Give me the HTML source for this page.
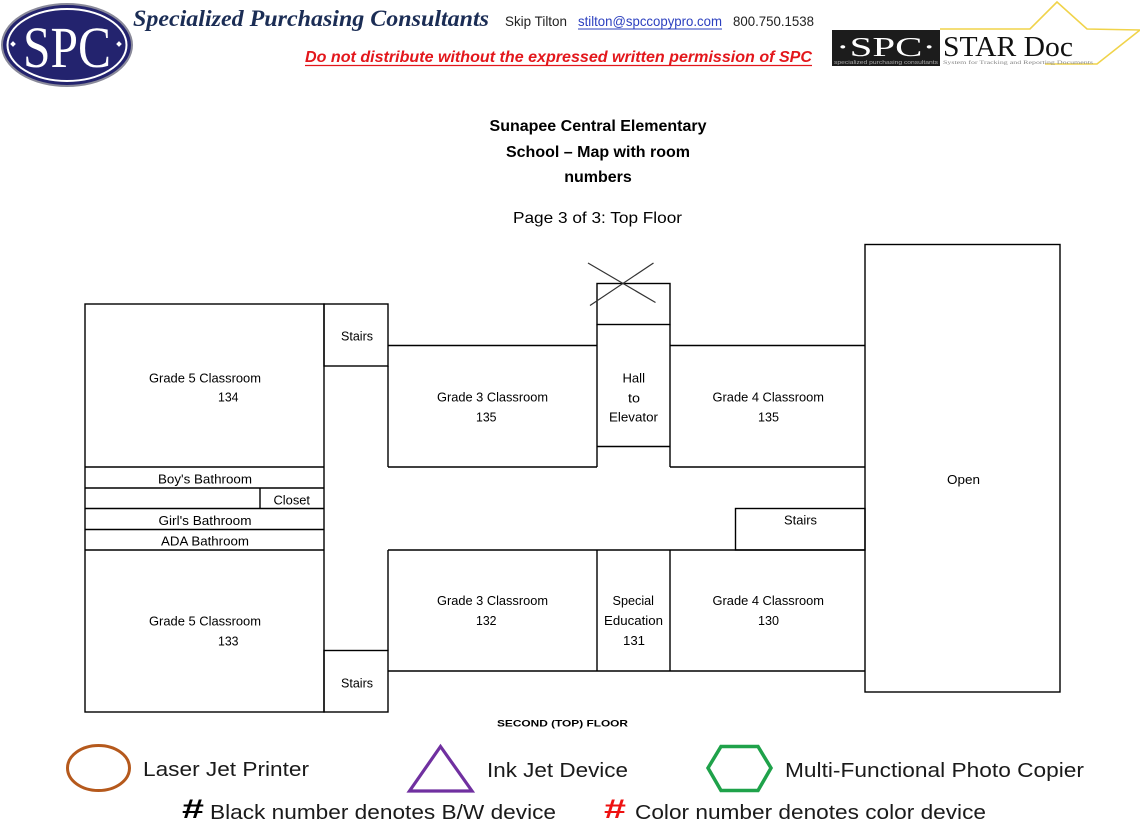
<!DOCTYPE html>
<html>
<head>
<meta charset="utf-8">
<style>
html,body{margin:0;padding:0;background:#fff;}
body{width:1140px;height:828px;overflow:hidden;}
svg{display:block;}
</style>
</head>
<body>
<svg width="1140" height="828" viewBox="0 0 1140 828" xmlns="http://www.w3.org/2000/svg">
<rect x="0" y="0" width="1140" height="828" fill="#fff"/>

<!-- ===== HEADER ===== -->
<!-- SPC oval logo -->
<ellipse cx="67" cy="45" rx="65" ry="41" fill="#23236e" stroke="#8a8a9a" stroke-width="2"/>
<ellipse cx="67" cy="45" rx="59.5" ry="36" fill="none" stroke="#ffffff" stroke-width="2"/>
<text x="23" y="67" font-family="Liberation Serif, serif" font-size="58" fill="#fff" textLength="88" lengthAdjust="spacingAndGlyphs">SPC</text>
<rect x="11" y="42" width="4" height="4" fill="#fff" transform="rotate(45 13 44)"/>
<rect x="117" y="42" width="4" height="4" fill="#fff" transform="rotate(45 119 44)"/>

<text x="133" y="26" font-family="Liberation Serif, serif" font-size="23" font-weight="bold" font-style="italic" fill="#1b2d55" textLength="356" lengthAdjust="spacingAndGlyphs">Specialized Purchasing Consultants</text>
<text x="505" y="26" font-family="Liberation Sans, sans-serif" font-size="14" fill="#222" textLength="62" lengthAdjust="spacingAndGlyphs">Skip Tilton</text>
<text x="578" y="26" font-family="Liberation Sans, sans-serif" font-size="14" fill="#2b3fbf" textLength="144" lengthAdjust="spacingAndGlyphs">stilton@spccopypro.com</text>
<line x1="578" y1="29" x2="722" y2="29" stroke="#2b3fbf" stroke-width="1"/>
<text x="733" y="26" font-family="Liberation Sans, sans-serif" font-size="14" fill="#222" textLength="81" lengthAdjust="spacingAndGlyphs">800.750.1538</text>

<text x="305" y="62" font-family="Liberation Sans, sans-serif" font-size="15.5" font-weight="bold" font-style="italic" fill="#e3171c" textLength="507" lengthAdjust="spacingAndGlyphs">Do not distribute without the expressed written permission of SPC</text>
<line x1="305" y1="65.5" x2="812" y2="65.5" stroke="#e3171c" stroke-width="1.3"/>

<!-- STAR Doc logo -->
<polyline points="940,29 1030,29 1057,2 1087,29 1140,30 1097,64 1045,64" fill="none" stroke="#f0d34a" stroke-width="1.6"/>
<rect x="832" y="30" width="108" height="36" fill="#1c1c1c"/>
<text x="836" y="56" font-family="Liberation Serif, serif" font-size="27" fill="#fff" textLength="100" lengthAdjust="spacingAndGlyphs">·SPC·</text>
<text x="834" y="64" font-family="Liberation Sans, sans-serif" font-size="5" fill="#aaa" textLength="104" lengthAdjust="spacingAndGlyphs">specialized purchasing consultants</text>
<text x="943" y="56" font-family="Liberation Serif, serif" font-size="28" fill="#111" textLength="130" lengthAdjust="spacingAndGlyphs">STAR Doc</text>
<text x="943" y="64" font-family="Liberation Serif, serif" font-size="5" fill="#888" textLength="150" lengthAdjust="spacingAndGlyphs">System for Tracking and Reporting Documents</text>

<!-- ===== TITLE ===== -->
<g font-family="Liberation Sans, sans-serif" font-weight="bold" font-size="16" fill="#000" text-anchor="middle">
<text x="598" y="131">Sunapee Central Elementary</text>
<text x="598" y="157">School – Map with room</text>
<text x="598" y="182">numbers</text>
</g>
<text x="513" y="223" font-family="Liberation Sans, sans-serif" font-size="16" fill="#000" textLength="169" lengthAdjust="spacingAndGlyphs">Page 3 of 3:  Top Floor</text>

<!-- ===== MAP ===== -->
<g fill="none" stroke="#000" stroke-width="1.4">
  <rect x="85" y="304" width="239" height="408"/>
  <line x1="85" y1="467" x2="324" y2="467"/>
  <line x1="85" y1="488" x2="324" y2="488"/>
  <line x1="85" y1="508.5" x2="324" y2="508.5"/>
  <line x1="85" y1="529.5" x2="324" y2="529.5"/>
  <line x1="85" y1="550" x2="324" y2="550"/>
  <line x1="260" y1="488" x2="260" y2="508.5"/>
  <rect x="324" y="304" width="64" height="62"/>
  <rect x="324" y="650.5" width="64" height="61.5"/>
  <line x1="388" y1="366" x2="388" y2="467"/>
  <line x1="388" y1="550" x2="388" y2="650.5"/>
  <line x1="388" y1="345.5" x2="597" y2="345.5"/>
  <line x1="388" y1="467" x2="597" y2="467"/>
  <rect x="597" y="283.5" width="73" height="41"/>
  <line x1="597" y1="324.5" x2="597" y2="467"/>
  <line x1="670" y1="324.5" x2="670" y2="467"/>
  <line x1="597" y1="446.5" x2="670" y2="446.5"/>
  <line x1="670" y1="345.5" x2="865" y2="345.5"/>
  <line x1="670" y1="467" x2="865" y2="467"/>
  <rect x="865" y="244.5" width="195" height="447.5"/>
  <rect x="735.5" y="508.5" width="129.5" height="41.5"/>
  <line x1="388" y1="550" x2="865" y2="550"/>
  <line x1="388" y1="671" x2="865" y2="671"/>
  <line x1="597" y1="550" x2="597" y2="671"/>
  <line x1="670" y1="550" x2="670" y2="671"/>
</g>
<g stroke="#333" stroke-width="1.2">
  <line x1="588" y1="263" x2="655.5" y2="302.5"/>
  <line x1="653.5" y1="263" x2="590" y2="305.5"/>
</g>

<g font-family="Liberation Sans, sans-serif" font-size="12.5" fill="#000">
  <text x="149" y="382.5" textLength="112" lengthAdjust="spacingAndGlyphs">Grade 5 Classroom</text>
  <text x="218" y="401.5" textLength="20.5" lengthAdjust="spacingAndGlyphs">134</text>
  <text x="341" y="340.5" textLength="32" lengthAdjust="spacingAndGlyphs">Stairs</text>
  <text x="158" y="483.5" textLength="94" lengthAdjust="spacingAndGlyphs">Boy's Bathroom</text>
  <text x="273.5" y="504.5" textLength="36.5" lengthAdjust="spacingAndGlyphs">Closet</text>
  <text x="158.5" y="525" textLength="93" lengthAdjust="spacingAndGlyphs">Girl's Bathroom</text>
  <text x="161" y="545.5" textLength="88" lengthAdjust="spacingAndGlyphs">ADA Bathroom</text>
  <text x="149" y="625.5" textLength="112" lengthAdjust="spacingAndGlyphs">Grade 5 Classroom</text>
  <text x="218" y="645.5" textLength="20.5" lengthAdjust="spacingAndGlyphs">133</text>
  <text x="341" y="687.5" textLength="32" lengthAdjust="spacingAndGlyphs">Stairs</text>

  <text x="437" y="401.5" textLength="111" lengthAdjust="spacingAndGlyphs">Grade 3 Classroom</text>
  <text x="476" y="421.5" textLength="20.5" lengthAdjust="spacingAndGlyphs">135</text>
  <text x="622.5" y="382.5" textLength="22.5" lengthAdjust="spacingAndGlyphs">Hall</text>
  <text x="628" y="402.5" textLength="12" lengthAdjust="spacingAndGlyphs">to</text>
  <text x="609" y="421.5" textLength="49" lengthAdjust="spacingAndGlyphs">Elevator</text>
  <text x="712.5" y="401.5" textLength="111.5" lengthAdjust="spacingAndGlyphs">Grade 4 Classroom</text>
  <text x="758" y="421.5" textLength="21" lengthAdjust="spacingAndGlyphs">135</text>

  <text x="947" y="484" textLength="33" lengthAdjust="spacingAndGlyphs">Open</text>
  <text x="784" y="524.5" textLength="33" lengthAdjust="spacingAndGlyphs">Stairs</text>

  <text x="437" y="605" textLength="111" lengthAdjust="spacingAndGlyphs">Grade 3 Classroom</text>
  <text x="476" y="625" textLength="20.5" lengthAdjust="spacingAndGlyphs">132</text>
  <text x="612.5" y="605" textLength="41.5" lengthAdjust="spacingAndGlyphs">Special</text>
  <text x="604" y="625" textLength="59" lengthAdjust="spacingAndGlyphs">Education</text>
  <text x="623" y="645" textLength="22" lengthAdjust="spacingAndGlyphs">131</text>
  <text x="712.5" y="605" textLength="111.5" lengthAdjust="spacingAndGlyphs">Grade 4 Classroom</text>
  <text x="758" y="625" textLength="21" lengthAdjust="spacingAndGlyphs">130</text>
</g>

<text x="497" y="726.5" font-family="Liberation Sans, sans-serif" font-size="9" font-weight="bold" fill="#000" textLength="131" lengthAdjust="spacingAndGlyphs">SECOND (TOP) FLOOR</text>

<!-- ===== LEGEND ===== -->
<ellipse cx="98.5" cy="768" rx="31" ry="22.5" fill="none" stroke="#b5591c" stroke-width="3"/>
<polygon points="440.5,746.5 409.5,791 472,791" fill="none" stroke="#7030a0" stroke-width="3.2" stroke-linejoin="miter"/>
<polygon points="708,768 721,746.5 758,746.5 771,768 758,790.5 721,790.5" fill="none" stroke="#1fa24a" stroke-width="3.5"/>

<g font-family="Liberation Sans, sans-serif" font-size="20" fill="#1a1a1a">
  <text x="143" y="776" textLength="166" lengthAdjust="spacingAndGlyphs">Laser Jet Printer</text>
  <text x="487" y="777" textLength="141" lengthAdjust="spacingAndGlyphs">Ink Jet Device</text>
  <text x="785" y="777" textLength="299" lengthAdjust="spacingAndGlyphs">Multi-Functional Photo Copier</text>
  <text x="210" y="819" textLength="346" lengthAdjust="spacingAndGlyphs">Black number denotes B/W device</text>
  <text x="635" y="819" textLength="351" lengthAdjust="spacingAndGlyphs">Color number denotes color device</text>
</g>
<text x="182" y="818" font-family="Liberation Sans, sans-serif" font-size="27" font-weight="bold" fill="#000" textLength="22" lengthAdjust="spacingAndGlyphs">#</text>
<text x="604" y="818" font-family="Liberation Sans, sans-serif" font-size="27" font-weight="bold" fill="#ee1111" textLength="22" lengthAdjust="spacingAndGlyphs">#</text>
</svg>
</body>
</html>
